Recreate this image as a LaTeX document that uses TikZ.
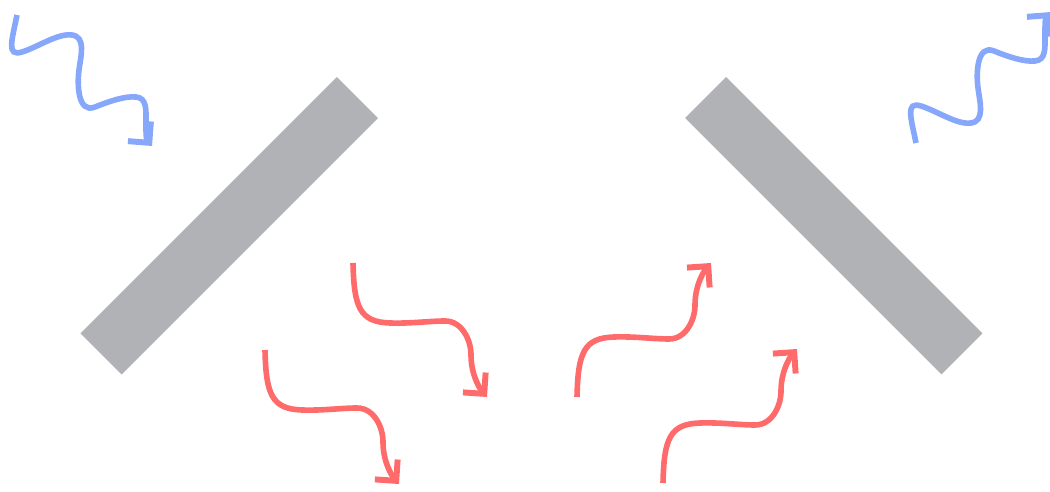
\documentclass[tikz,border=0pt]{standalone}
\usepackage{xcolor}
\usepackage{tikz}
\usetikzlibrary{arrows.meta}

\definecolor{slabgray}{RGB}{177,178,181}
\definecolor{rayblue}{RGB}{135,168,250}
\definecolor{rayred}{RGB}{255,107,107}

\begin{document}
\begin{tikzpicture}[
  x=0.02cm, y=-0.02cm,
  slab/.style={fill=slabgray, inner sep=0pt, minimum width=7.25cm, minimum height=1.16cm},
  ray/.style={line width=3.2pt, -{Straight Barb[length=8.6pt, width=17.2pt, line width=3.4pt, sharp]}},
  bluewave/.pic={
    \draw[ray, rayblue] (0,0)
      .. controls (-5,25) and (-11,42) .. (5,37)
      .. controls (21,32) and (41,18) .. (55,20)
      .. controls (69,22) and (64,40) .. (62,55)
      .. controls (60,70) and (61,99) .. (78,92)
      .. controls (93,86) and (108,81) .. (119,82)
      .. controls (130,83) and (129,95) .. (129,107)
      .. controls (129,119) and (129,124) .. (135,131);
  },
  redwave/.pic={
    \draw[ray, rayred] (0,0)
      .. controls (1,45) and (7,59) .. (37,60)
      .. controls (57,60.7) and (77,58) .. (92,58)
      .. controls (109,58) and (118,77) .. (118,92)
      .. controls (118,112) and (127,126) .. (134,134);
  }
]
\useasboundingbox (0,0) rectangle (1050,492);

% ── Mirrors ──
\node[slab, rotate=45] (mirrorL) at (229.25,225.75) {};
\node[slab, rotate=-45] (mirrorR) at (833.75,225.75) {};

% ── Blue light: in at the top left, out at the top right ──
\pic at (17,15) {bluewave};
\pic[yscale=-1] at (916,143) {bluewave};

% ── Red light between the mirrors ──
\pic at (353,263) {redwave};
\pic at (265,350) {redwave};
\pic[yscale=-1] at (577,397) {redwave};
\pic[yscale=-1] at (663,483) {redwave};

\end{tikzpicture}
\end{document}
